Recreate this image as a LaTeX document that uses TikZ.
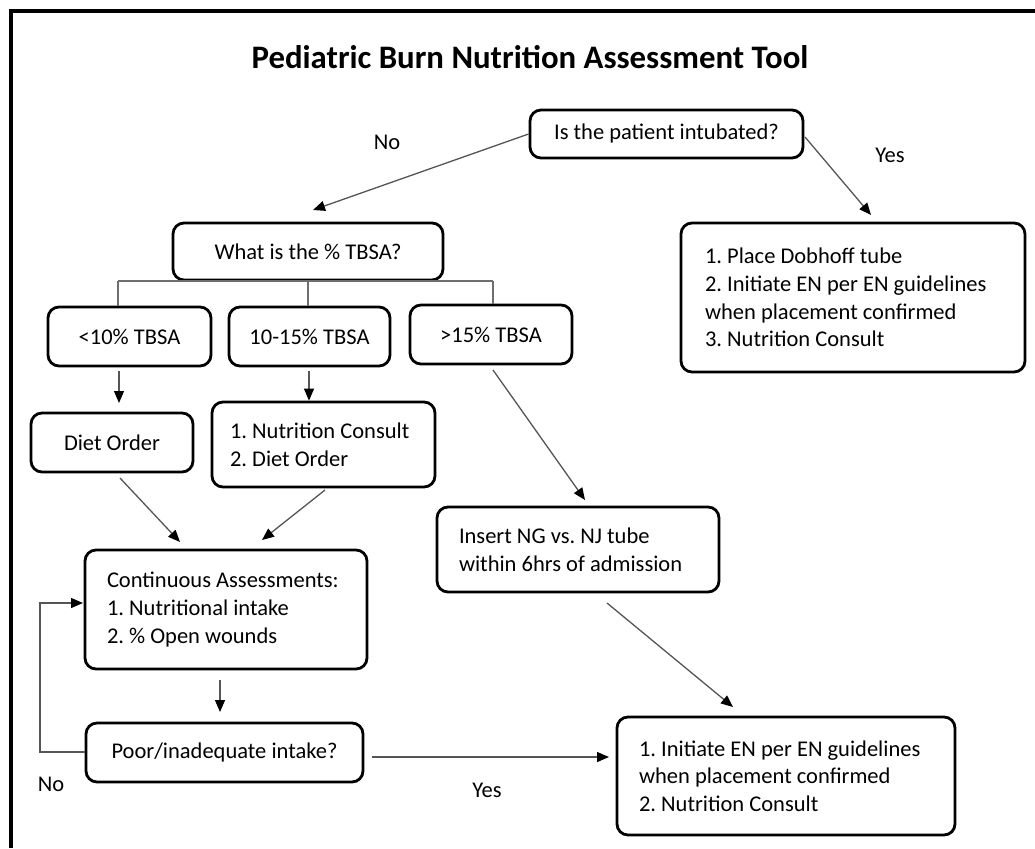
\documentclass[tikz,border=0pt]{standalone}
\usepackage{fontspec}
\setmainfont{Carlito}
\frenchspacing
\usetikzlibrary{arrows.meta}
\definecolor{lineg}{RGB}{85,85,85}
\definecolor{branchg}{RGB}{110,110,110}
\begin{document}
\begin{tikzpicture}[x=1pt,y=-1pt,
  box/.style={draw=black, line width=2.8pt, rounded corners=11pt, inner sep=0pt,
    align=center, font=\fontsize{22.5}{27.7}\selectfont\frenchspacing, text=black},
  lbox/.style={box, align=flush left, text width=#1},
  conn/.style={draw=lineg, line width=1.3pt, -{Triangle[length=12pt,width=10pt,color=black]}},
  branch/.style={draw=branchg, line width=1.8pt},
  lbl/.style={font=\fontsize{22.5}{27.7}\selectfont, inner sep=0pt},
  ttl/.style={font=\fontsize{32.8}{38}\selectfont\bfseries, inner sep=0pt}]
\useasboundingbox (0,0) rectangle (1035,848);
\fill[white] (0,0) rectangle (1035,848);
% frame
\draw[line width=3.6pt, line join=miter] (11,848) -- (11,11) -- (1035,11);
% title
\node[ttl] (title) at (530,57) {Pediatric Burn Nutrition Assessment Tool};
% boxes
\node[box, minimum width=273pt, minimum height=48pt] (intub) at (666.5,134) {Is the patient intubated?};
\node[box, minimum width=270pt, minimum height=57pt] (tbsa) at (308,251.5) {What is the \% TBSA?};
\node[lbox=296pt, inner xsep=24pt, minimum width=344pt, minimum height=149pt] (dob) at (853,297.5) {1. Place Dobhoff tube\\2. Initiate EN per EN guidelines\\when placement confirmed\\3. Nutrition Consult};
\node[box, minimum width=163pt, minimum height=59pt] (lt10) at (129.5,336.5) {<10\% TBSA};
\node[box, minimum width=161pt, minimum height=59pt] (mid) at (309.5,336.5) {10-15\% TBSA};
\node[box, minimum width=162pt, minimum height=59pt] (gt15) at (491,334.5) {>15\% TBSA};
\node[box, minimum width=162pt, minimum height=59pt] (diet) at (112,442.5) {Diet Order};
\node[lbox=187pt, inner xsep=18pt, minimum width=223pt, minimum height=85pt] (nc) at (323.5,444.5) {1. Nutrition Consult\\2. Diet Order};
\node[lbox=238pt, inner xsep=22pt, minimum width=282pt, minimum height=85pt] (ins) at (578,549.5) {Insert NG vs. NJ tube\\within 6hrs of admission};
\node[lbox=238pt, inner xsep=22pt, minimum width=282pt, minimum height=119pt] (cont) at (226,609.5) {Continuous Assessments:\\1. Nutritional intake\\2. \% Open wounds};
\node[box, minimum width=277pt, minimum height=59pt] (poor) at (224.5,752.5) {Poor/inadequate intake?};
\node[lbox=294pt, inner xsep=22pt, minimum width=338pt, minimum height=118pt] (fin) at (786,776) {1. Initiate EN per EN guidelines\\when placement confirmed\\2. Nutrition Consult};
% labels
\node[lbl] (lno1) at (387,142) {No};
\node[lbl] (lyes1) at (890,155) {Yes};
\node[lbl] (lno2) at (51,784) {No};
\node[lbl] (lyes2) at (487,790) {Yes};
% connector end points
\coordinate (eNo) at (313,210);
\coordinate (sYes) at (805,137);
\coordinate (eYes) at (871,215);
\coordinate (bl) at (118,281);
\coordinate (br) at (493,281);
\coordinate (s1) at (119,371);
\coordinate (e1) at (119,403);
\coordinate (s2) at (309,371);
\coordinate (s3) at (493,370);
\coordinate (e3) at (585,500);
\coordinate (s4) at (120,478);
\coordinate (e4) at (180,542);
\coordinate (s5) at (325,490);
\coordinate (e5) at (262,540);
\coordinate (s6) at (607,603);
\coordinate (e6) at (733,707);
\coordinate (s7) at (220,680);
\coordinate (e7) at (220,712);
\coordinate (s8) at (372,757);
\coordinate (e8) at (609,757);
\coordinate (lp) at (40,752);
% connectors
\draw[conn] (intub.west) -- (eNo);
\draw[conn] (sYes) -- (eYes);
\draw[branch] (bl) -- (br);
\draw[branch] (bl) -- (bl |- lt10.north);
\draw[branch] (tbsa.south) -- (tbsa.south |- mid.north);
\draw[branch] (br) -- (br |- gt15.north);
\draw[conn] (s1) -- (e1);
\draw[conn] (s2) -- (s2 |- nc.north);
\draw[conn] (s3) -- (e3);
\draw[conn] (s4) -- (e4);
\draw[conn] (s5) -- (e5);
\draw[conn] (s6) -- (e6);
\draw[conn] (s7) -- (e7);
\draw[conn] (s8) -- (e8);
\draw[conn] (poor.west |- lp) -- (lp) -- (lp |- 0,603) -- (83,603);
\end{tikzpicture}
\end{document}
